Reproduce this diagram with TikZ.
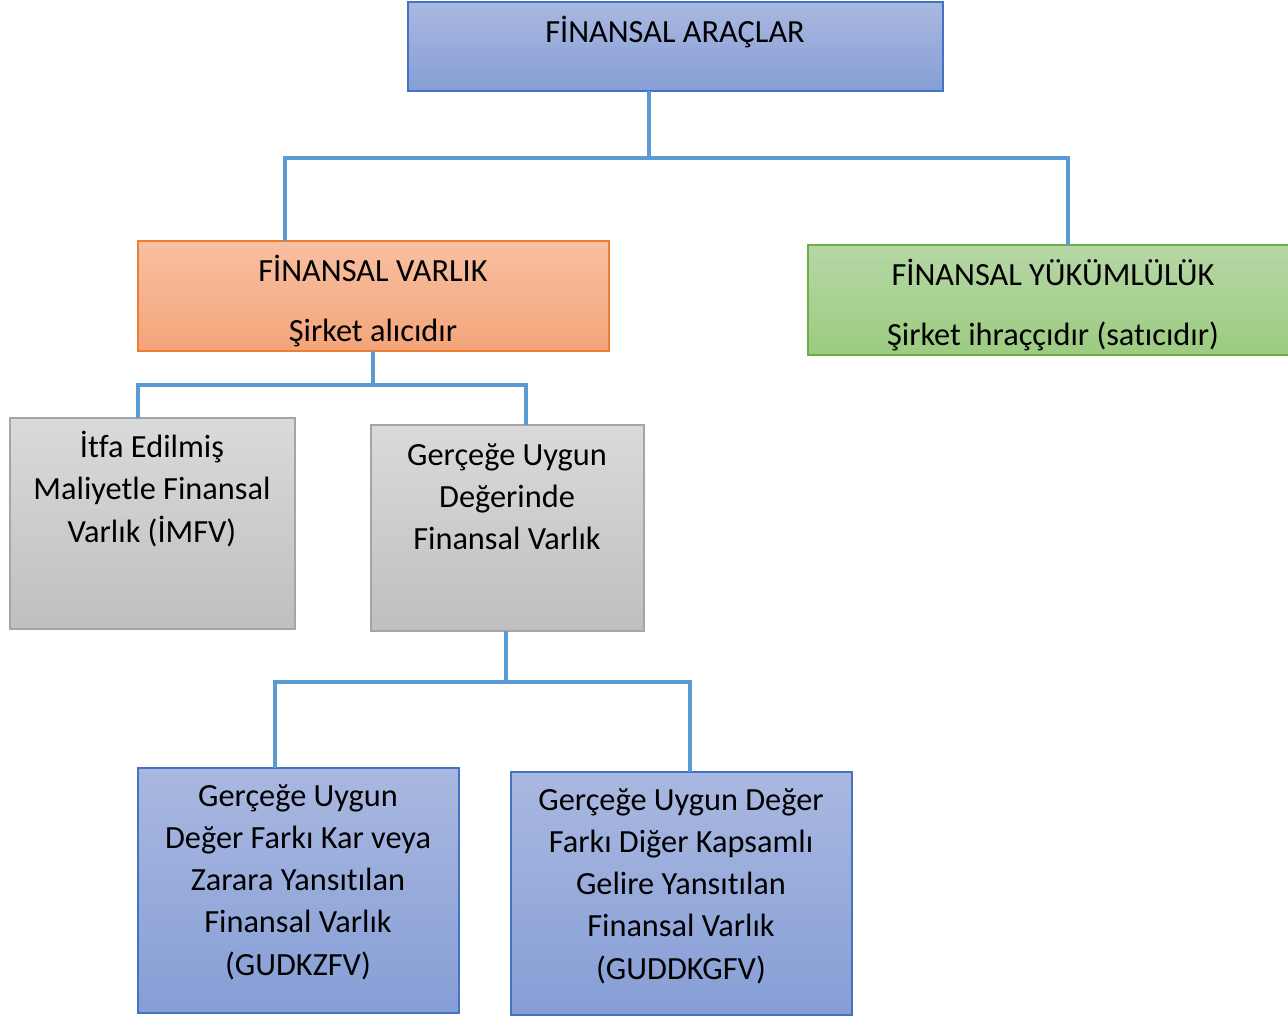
\documentclass[tikz,border=0pt]{standalone}
\usepackage{fontspec}
\setmainfont[Ligatures=NoCommon]{Carlito}

\definecolor{blueTop}{HTML}{A9B8E0}
\definecolor{blueBot}{HTML}{869ED6}
\definecolor{blueLine}{HTML}{4472C4}
\definecolor{orTop}{HTML}{F8C0A2}
\definecolor{orBot}{HTML}{F4A479}
\definecolor{orLine}{HTML}{ED7D31}
\definecolor{grTop}{HTML}{B6D7A6}
\definecolor{grBot}{HTML}{9CCB80}
\definecolor{grLine}{HTML}{70AD47}
\definecolor{gyTop}{HTML}{DADADA}
\definecolor{gyBot}{HTML}{BFBFBF}
\definecolor{gyLine}{HTML}{A5A5A5}
\definecolor{connLine}{HTML}{5B9BD5}

\tikzset{
box/.style={rectangle, anchor=north west, inner sep=0pt, outer sep=0pt, line width=0.8pt},
bluebox/.style={box, draw=blueLine, top color=blueTop, bottom color=blueBot},
orbox/.style={box, draw=orLine, top color=orTop, bottom color=orBot},
grbox/.style={box, draw=grLine, top color=grTop, bottom color=grBot},
gybox/.style={box, draw=gyLine, top color=gyTop, bottom color=gyBot},
txt/.style={align=center, inner sep=0pt, font=\fontsize{18.4}{24}\selectfont},
conn/.style={draw=connLine, line width=2.2pt},
}

\begin{document}
\begin{tikzpicture}[x=0.02cm,y=-0.02cm]

\clip (0,0) rectangle (1288,1016);

\node[bluebox, minimum width=10.7cm, minimum height=1.78cm] (araclar) at (408,2) {};
\node[orbox, minimum width=9.42cm, minimum height=2.2cm] (varlik) at (138,241) {};
\node[grbox, minimum width=9.8cm, minimum height=2.2cm] (yukum) at (808,245) {};
\node[gybox, minimum width=5.7cm, minimum height=4.22cm] (imfv) at (10,418) {};
\node[gybox, minimum width=5.46cm, minimum height=4.12cm] (gudfv) at (371,425) {};
\node[bluebox, minimum width=6.42cm, minimum height=4.9cm] (kzfv) at (138,768) {};
\node[bluebox, minimum width=6.82cm, minimum height=4.86cm] (dkgfv) at (511,772) {};

\node[txt] (araclarT) at (675,32) {FİNANSAL ARAÇLAR};
\node[txt] (varlikT) at (373,301) {FİNANSAL VARLIK\\[10pt]Şirket alıcıdır};
\node[txt] (yukumT) at (1053,305) {FİNANSAL YÜKÜMLÜLÜK\\[10pt]Şirket ihraççıdır (satıcıdır)};
\node[txt] (imfvT) at (152,489) {İtfa Edilmiş\\Maliyetle Finansal\\Varlık (İMFV)};
\node[txt] (gudfvT) at (507,497) {Gerçeğe Uygun\\Değerinde\\Finansal Varlık};
\node[txt] (kzfvT) at (298,882) {Gerçeğe Uygun\\Değer Farkı Kar veya\\Zarara Yansıtılan\\Finansal Varlık\\(GUDKZFV)};
\node[txt] (dkgfvT) at (681,886) {Gerçeğe Uygun Değer\\Farkı Diğer Kapsamlı\\Gelire Yansıtılan\\Finansal Varlık\\(GUDDKGFV)};

\coordinate (j1) at (649,158);
\coordinate (j1l) at (285,158);
\coordinate (j1r) at (1068,158);
\draw[conn] (j1 |- araclar.south) -- (j1);
\draw[conn] (j1l |- varlik.north) -- (j1l) -- (j1r) -- (j1r |- yukum.north);

\coordinate (j2) at (373,385);
\coordinate (j2l) at (138,385);
\coordinate (j2r) at (526,385);
\draw[conn] (j2 |- varlik.south) -- (j2);
\draw[conn] (j2l |- imfv.north) -- (j2l) -- (j2r) -- (j2r |- gudfv.north);

\coordinate (j3) at (506,682);
\coordinate (j3l) at (275,682);
\coordinate (j3r) at (690,682);
\draw[conn] (j3 |- gudfv.south) -- (j3);
\draw[conn] (j3l |- kzfv.north) -- (j3l) -- (j3r) -- (j3r |- dkgfv.north);

\end{tikzpicture}
\end{document}
